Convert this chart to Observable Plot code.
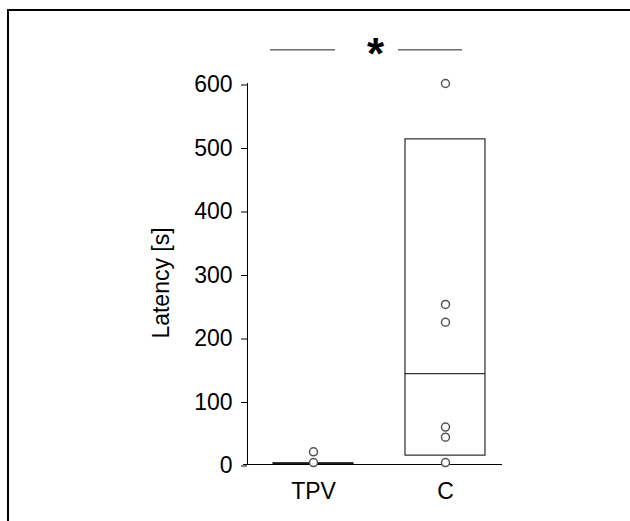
<!DOCTYPE html>
<html><head><meta charset="utf-8">
<script src="https://cdn.jsdelivr.net/npm/d3@7"></script>
<script src="https://cdn.jsdelivr.net/npm/@observablehq/plot@0.6"></script>
<style>
body{margin:0;background:#fff;overflow:hidden;}
#wrap{position:relative;width:630px;height:521px;overflow:hidden;}
#wrap svg{position:absolute;left:0;top:0;}
#border{position:absolute;left:7px;top:9px;width:700px;height:600px;border-left:2px solid #000;border-top:2px solid #000;pointer-events:none;}
</style></head><body><div id="wrap"><div id="border"></div></div>
<script>
const groups = ["TPV", "C"];
const q1 = [0, 14];
const medians = [1, 143];
const q3 = [2, 512];
const tpvPoints = [20, 3];
const cPoints = [600, 252, 224, 59, 43, 3];
const yTicks = [0, 100, 200, 300, 400, 500, 600];
const yLabel = "Latency [s]";
const signif = "*";

const boxes = groups.map((g, i) => ({group: g, pos: i + 1, q1: q1[i], median: medians[i], q3: q3[i]}));
const points = [
  ...tpvPoints.map(v => ({pos: 1, value: v})),
  ...cPoints.map(v => ({pos: 2, value: v}))
];
const half = 0.303;

const plot = Plot.plot({
  width: 630,
  height: 521,
  marginLeft: 247,
  marginRight: 128,
  marginTop: 83,
  marginBottom: 57,
  x: {domain: [0.5, 2.432]},
  y: {domain: [0, 600]},
  style: {fontFamily: "Arial, 'Liberation Sans', sans-serif", fontSize: "23px", color: "#000", background: "transparent"},
  marks: [
    Plot.rect(boxes, {x1: d => d.pos - half, x2: d => d.pos + half, y1: "q1", y2: "q3", fill: "white", stroke: "#000", strokeWidth: 1}),
    Plot.ruleY(boxes, {y: "median", x1: d => d.pos - half, x2: d => d.pos + half, stroke: "#000", strokeWidth: 1}),
    Plot.ruleX([0.5], {stroke: "#000", strokeWidth: 1}),
    Plot.ruleY([0], {x1: 0.47, x2: 2.432, stroke: "#000", strokeWidth: 1}),
    Plot.axisY(yTicks, {tickSize: 6, tickPadding: 9, dy: 1.5, label: null, stroke: "#000", fill: "#000"}),
    Plot.axisX([1, 2], {tickSize: 0, tickPadding: 18, tickFormat: d => groups[d - 1], label: null, fill: "#000"}),
    Plot.text([yLabel], {frameAnchor: "left", textAnchor: "middle", rotate: -90, dx: -86, dy: 9, fill: "#000", fontSize: 23}),
    Plot.dot(points, {x: "pos", y: "value", r: 4, stroke: "#555", strokeWidth: 1.5, fill: "white"}),
    Plot.ruleY([653], {x1: 0.674, x2: 1.167, stroke: "#222", strokeWidth: 1}),
    Plot.ruleY([653], {x1: 1.644, x2: 2.129, stroke: "#222", strokeWidth: 1}),
    Plot.text([signif], {x: 1.47, y: 645, fontSize: 44, fontWeight: "bold", fill: "#000"})
  ]
});
document.getElementById("wrap").appendChild(plot);
</script>
</body></html>
